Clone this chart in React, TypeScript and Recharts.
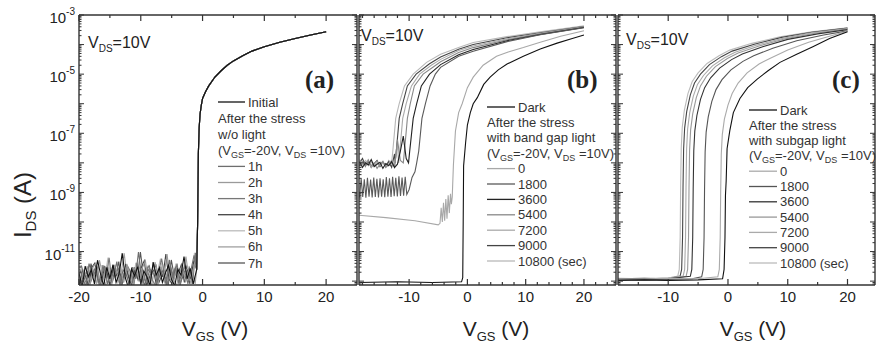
import React from 'react'
import { LineChart, Line, XAxis, YAxis } from 'recharts'

const FONT = '"Liberation Sans", Arial, Helvetica, sans-serif'
const SERIF = '"Liberation Serif", "Times New Roman", serif'
const INK = '#222'
const AXIS = '#333'

// ---------- axes ----------
const Y_DOMAIN: [number, number] = [7.4e-13, 1e-3]
const Y_LABELED = [-11, -9, -7, -5, -3]

const X_A_DOMAIN: [number, number] = [-20, 25]
const X_A_MAJOR = [-20, -10, 0, 10, 20]
const X_A_MINOR = [-15, -5, 5, 15]
const X_B_DOMAIN: [number, number] = [-18.6, 25.5]
const X_B_MAJOR = [-10, 0, 10, 20]
const X_B_MINOR = [-18, -16, -14, -12, -8, -6, -4, -2, 2, 4, 6, 8, 12, 14, 16, 18, 22, 24]
const X_C_DOMAIN: [number, number] = [-18.4, 24.6]
const X_C_MAJOR = [-10, 0, 10, 20]
const X_C_MINOR = [-15, -5, 5, 15]

// ---------- panel (a): stress without light ----------
// off-state noise in pA, one reading every 0.5 V from -20 V
const A_NOISE_STEP = 0.5
const A_NOISE_1 = [1.9, 0.6, 3.2, 1.4, 2.4, 0.8, 5.1, 1.7, 0.7, 2.9, 1.2, 3.6, 0.9, 1.8, 8.8, 1.3, 0.6, 2.6, 1.5, 3.1, 0.8, 2.2, 1.4, 0.7, 4.4, 1.6, 2.8, 0.9, 1.9, 3.4, 1.1, 0.7, 2.5, 1.6, 6.8, 1.2, 2.7, 0.8]
const A_NOISE_2 = [2.6, 1.1, 0.7, 3.9, 1.6, 2.8, 0.9, 1.5, 3.3, 0.8, 2.2, 1.4, 4.6, 0.7, 2.4, 1.7, 0.8, 3.0, 1.2, 9.6, 1.5, 0.7, 2.6, 1.8, 3.7, 0.9, 1.6, 2.3, 0.7, 5.2, 1.4, 2.8, 0.9, 1.7, 3.2, 0.8, 2.4, 7.5]
const A_NOISE_3 = [0.8, 2.3, 1.5, 0.7, 2.9, 4.1, 1.2, 0.8, 2.5, 1.9, 0.6, 3.4, 1.6, 2.1, 0.9, 3.8, 1.3, 0.7, 2.4, 1.1, 2.8, 4.9, 0.8, 1.7, 2.2, 0.7, 3.1, 1.4, 8.2, 1.2, 0.8, 2.6, 1.8, 3.6, 0.9, 2.3, 1.3, 4.5]
const A_NOISE_4 = [3.4, 1.5, 2.1, 0.9, 1.7, 2.6, 0.7, 3.5, 1.3, 6.2, 0.9, 1.9, 2.7, 0.8, 1.5, 3.2, 2.0, 0.7, 4.2, 1.6, 0.9, 2.5, 3.3, 1.1, 0.7, 2.0, 5.8, 1.5, 0.8, 2.7, 1.3, 3.9, 0.7, 2.2, 1.5, 2.9, 0.8, 9.1]
// on-state branch shared by all curves (they overlap)
const A_ON = [[-0.95, 2.5e-12], [-0.8, 9e-11], [-0.68, 2e-8], [-0.55, 1.5e-7], [-0.4, 4.5e-7], [-0.2, 9e-7], [0, 1.5e-6], [0.5, 2.6e-6], [1, 4e-6], [2, 8e-6], [3, 1.3e-5], [4, 2e-5], [5, 2.8e-5], [6.5, 4.2e-5], [8, 6e-5], [10, 8.5e-5], [12.5, 1.2e-4], [15, 1.6e-4], [17.5, 2.1e-4], [20, 2.7e-4]]

const A_SERIES = [
  { name: 'Initial', color: '#111', noise: A_NOISE_1, shift: 0 },
  { name: '1h', color: '#6e6e6e', noise: A_NOISE_2, shift: 0.125 },
  { name: '2h', color: '#9a9a9a', noise: A_NOISE_3, shift: 0.25 },
  { name: '3h', color: '#777', noise: A_NOISE_4, shift: 0.375 },
  { name: '4h', color: '#444', noise: A_NOISE_3, shift: 0.06 },
  { name: '5h', color: '#bbb', noise: A_NOISE_4, shift: 0.19 },
  { name: '6h', color: '#a0a0a0', noise: A_NOISE_1, shift: 0.31 },
  { name: '7h', color: '#555', noise: A_NOISE_2, shift: 0.44 },
]

// ---------- panel (b): stress with band gap light ----------
const B_DARK = [[-18.6, 9e-13], [-12, 9.5e-13], [-6, 9e-13], [-1.0, 9.5e-13], [-0.8, 1.3e-12], [-0.72, 1e-10], [-0.65, 7.9e-9], [-0.3, 5e-8], [0, 1.9e-7], [0.5, 5e-7], [1, 1e-6], [1.7, 1.6e-6], [2.8, 4.5e-6], [3.9, 7.9e-6], [5.3, 1.4e-5], [6.8, 2.2e-5], [9.6, 4e-5], [12.5, 7.1e-5], [15.4, 1.12e-4], [18, 1.6e-4], [20, 2.1e-4]]
const B_ZERO = [[-18.6, 1.7e-10], [-14, 1.4e-10], [-9, 1.1e-10], [-5, 8e-11], [-4.7, 9e-11], [-4.5, 3e-10], [-4.3, 1e-10], [-4.1, 4.5e-10], [-3.9, 1.1e-10], [-3.7, 6e-10], [-3.5, 1.3e-10], [-3.3, 8e-10], [-3.1, 2e-10], [-2.9, 9e-10], [-2.75, 4e-10], [-2.6, 7e-10], [-2.4, 8.5e-9], [-2.05, 1.2e-7], [-1.5, 5e-7], [-0.9, 1e-6], [0, 3.5e-6], [1, 7.9e-6], [2.7, 2e-5], [5, 4e-5], [7, 5.6e-5], [9.6, 7.9e-5], [12.5, 1.2e-4], [16, 1.9e-4], [20, 2.95e-4]]
// noisy off-state band in nA, one reading every 0.5 V from -18.5 V
const B_FLOOR_STEP = 0.5
const B_FLOOR_10800 = [13, 9, 12, 8, 11, 7.5, 10, 8.5, 11.5, 7, 12]
const B_FLOOR_9000 = [10, 14, 8, 11, 7, 9.5, 12, 7.5, 10.5, 8, 11, 7, 20]
const B_FLOOR_7200 = [12, 8.5, 10, 13, 7, 9, 11, 8, 10, 7.5, 9.5, 12, 8, 45]
const B_FLOOR_5400 = [9, 11, 7.5, 12, 8, 10, 6.5, 9, 11, 7, 8.5, 10, 7, 60, 12]
const B_FLOOR_3600 = [11, 7, 10, 8.5, 13, 7.5, 9, 10.5, 6.5, 9.5, 8, 11, 7, 9, 25, 80, 14]
// periodic spikes of the 1800 s curve, nA, every 0.27 V from -18.5 V
const B_SPIKE_STEP = 0.27
const B_SPIKES_1800 = [0.68, 3.0, 0.7, 2.8, 0.66, 3.1, 0.72, 2.7, 0.68, 3.2, 0.7, 2.9, 0.67, 3.0, 0.71, 2.8, 0.69, 3.3, 0.72, 3.0, 0.7, 3.4, 0.74, 3.1, 0.73, 3.5, 0.76, 3.2, 0.78, 3.4, 0.85]
const B_RISE_10800 = [[-13.0, 1e-8], [-12.8, 2.5e-8], [-12.3, 3.2e-7], [-11.7, 1e-6], [-10.8, 4e-6], [-9.3, 1e-5], [-7.0, 2.5e-5], [-4.6, 4.7e-5], [-1.5, 7.9e-5], [1, 1.17e-4], [6.8, 1.86e-4], [12.5, 2.7e-4], [20, 4.3e-4]]
const B_RISE_9000 = [[-12.4, 1e-8], [-12.2, 2.5e-8], [-11.7, 3.2e-7], [-11.1, 1e-6], [-10.3, 4e-6], [-8.8, 1e-5], [-6.5, 2.24e-5], [-4.6, 3.8e-5], [-1.5, 6.9e-5], [1, 1e-4], [6.8, 1.7e-4], [12.5, 2.5e-4], [20, 4.1e-4]]
const B_RISE_7200 = [[-11.8, 1e-8], [-11.6, 2.5e-8], [-11.1, 3.2e-7], [-10.5, 1e-6], [-9.6, 4e-6], [-8.2, 1e-5], [-6.2, 2e-5], [-4.6, 3.16e-5], [-1.5, 6.3e-5], [1, 8.9e-5], [6.8, 1.58e-4], [12.5, 2.4e-4], [20, 4e-4]]
const B_RISE_5400 = [[-11.0, 1e-8], [-10.8, 2.5e-8], [-10.3, 3.2e-7], [-9.8, 1e-6], [-9.1, 4e-6], [-7.6, 1e-5], [-5.8, 1.78e-5], [-4.6, 2.63e-5], [-1.5, 5.4e-5], [1, 7.9e-5], [6.8, 1.45e-4], [12.5, 2.3e-4], [20, 3.9e-4]]
const B_RISE_3600 = [[-10.1, 1e-8], [-9.9, 2.5e-8], [-9.3, 3.2e-7], [-8.7, 1e-6], [-7.9, 4e-6], [-6.5, 1e-5], [-4.6, 2.1e-5], [-1.5, 4.5e-5], [1, 6.8e-5], [6.8, 1.35e-4], [12.5, 2.2e-4], [20, 3.8e-4]]
const B_RISE_1800 = [[-10.0, 1.26e-9], [-9.5, 3.2e-9], [-9.0, 5e-9], [-8.7, 1e-8], [-8.35, 2.5e-8], [-7.8, 3.2e-7], [-7.2, 1e-6], [-6.4, 4e-6], [-5.5, 1e-5], [-4.6, 1.7e-5], [-1.5, 4e-5], [1, 5.9e-5], [6.8, 1.26e-4], [12.5, 2.14e-4], [20, 3.7e-4]]

// ---------- panel (c): stress with subgap light ----------
const C_DARK = [[-18.4, 1.05e-12], [-14, 1.1e-12], [-10, 1.05e-12], [-5, 1.1e-12], [-0.9, 1.2e-12], [-0.65, 2.5e-12], [-0.5, 3e-11], [-0.42, 8e-10], [-0.3, 2.5e-9], [-0.15, 3e-8], [0.3, 1.2e-7], [0.9, 5e-7], [2, 1.5e-6], [3.3, 3.5e-6], [4.9, 6.8e-6], [6.7, 1.3e-5], [8.7, 2.5e-5], [11.5, 4.7e-5], [14.2, 8.5e-5], [17, 1.6e-4], [20, 2.7e-4]]
const C_0 = [[-18.4, 1.2e-12], [-14, 1.2e-12], [-10, 1.25e-12], [-5, 1.2e-12], [-1.7, 1.4e-12], [-1.45, 2.5e-12], [-1.3, 3e-11], [-1.22, 1e-9], [-1.12, 2e-8], [-0.95, 9e-8], [-0.6, 3e-7], [0, 9e-7], [0.7, 2.2e-6], [1.7, 5e-6], [3.2, 1.1e-5], [5.2, 2.2e-5], [7, 3.4e-5], [10, 6.5e-5], [13.5, 1.2e-4], [17, 1.9e-4], [20, 2.85e-4]]
const C_1800 = [[-18.4, 1.15e-12], [-14, 1.1e-12], [-10, 1.15e-12], [-6, 1.2e-12], [-4.4, 1.4e-12], [-4.15, 2.5e-12], [-4.0, 3e-11], [-3.92, 1.2e-9], [-3.82, 2.4e-8], [-3.65, 1.1e-7], [-3.3, 3.6e-7], [-2.7, 1.2e-6], [-2.0, 3e-6], [-1.0, 6.5e-6], [0.5, 1.4e-5], [2.5, 2.7e-5], [4.3, 4.2e-5], [7.5, 7.5e-5], [11.5, 1.35e-4], [16, 2.1e-4], [20, 2.9e-4]]
const C_3600 = [[-18.4, 1.2e-12], [-14, 1.25e-12], [-10, 1.2e-12], [-6.3, 1.45e-12], [-6.05, 2.5e-12], [-5.9, 3e-11], [-5.82, 1.3e-9], [-5.72, 2.6e-8], [-5.55, 1.2e-7], [-5.2, 4e-7], [-4.6, 1.4e-6], [-3.9, 3.5e-6], [-2.9, 7.5e-6], [-1.4, 1.6e-5], [0.6, 3.1e-5], [2.4, 4.8e-5], [5.8, 8.5e-5], [10, 1.5e-4], [15, 2.3e-4], [20, 3.2e-4]]
const C_5400 = [[-18.4, 1.1e-12], [-14, 1.15e-12], [-10, 1.2e-12], [-7.0, 1.45e-12], [-6.75, 2.5e-12], [-6.6, 3e-11], [-6.52, 1.4e-9], [-6.42, 2.8e-8], [-6.25, 1.3e-7], [-5.9, 4.5e-7], [-5.3, 1.6e-6], [-4.6, 4e-6], [-3.6, 8.5e-6], [-2.1, 1.8e-5], [-0.1, 3.4e-5], [1.7, 5.2e-5], [5.2, 9e-5], [9.6, 1.58e-4], [14.5, 2.4e-4], [20, 3.4e-4]]
const C_7200 = [[-18.4, 1.25e-12], [-14, 1.2e-12], [-10, 1.3e-12], [-7.5, 1.5e-12], [-7.25, 2.5e-12], [-7.1, 3e-11], [-7.02, 1.5e-9], [-6.92, 3e-8], [-6.75, 1.4e-7], [-6.4, 5e-7], [-5.8, 1.8e-6], [-5.1, 4.5e-6], [-4.1, 9e-6], [-2.6, 1.9e-5], [-0.6, 3.6e-5], [1.2, 5.5e-5], [4.8, 9.6e-5], [9.3, 1.65e-4], [14, 2.5e-4], [20, 3.5e-4]]
const C_9000 = [[-18.4, 1.2e-12], [-14, 1.15e-12], [-10, 1.2e-12], [-8.0, 1.5e-12], [-7.75, 2.5e-12], [-7.6, 3e-11], [-7.52, 1.5e-9], [-7.42, 3e-8], [-7.25, 1.5e-7], [-6.9, 5.5e-7], [-6.3, 2e-6], [-5.6, 5e-6], [-4.6, 1e-5], [-3.1, 2.1e-5], [-1.1, 3.9e-5], [0.7, 6e-5], [4.4, 1.03e-4], [9, 1.75e-4], [14, 2.6e-4], [20, 3.6e-4]]
const C_10800 = [[-18.4, 1.15e-12], [-14, 1.2e-12], [-10, 1.25e-12], [-8.4, 1.5e-12], [-8.15, 2.5e-12], [-8.0, 3e-11], [-7.92, 1.6e-9], [-7.82, 3.2e-8], [-7.65, 1.6e-7], [-7.3, 6e-7], [-6.7, 2.2e-6], [-6.0, 5.5e-6], [-5.0, 1.1e-5], [-3.5, 2.3e-5], [-1.5, 4.2e-5], [0.3, 6.5e-5], [4, 1.1e-4], [8.7, 1.85e-4], [14, 2.7e-4], [20, 3.7e-4]]

// ---------- helpers ----------
type Pt = { v: number; i: number }
const pairs = (arr: number[][]): Pt[] => arr.map(([v, i]) => ({ v, i }))
const stepped = (vals: number[], start: number, step: number, unit: number): Pt[] =>
  vals.map((p, k) => ({ v: start + k * step, i: p * unit }))

const aData = A_SERIES.map((s) => ({
  ...s,
  data: [...stepped(s.noise, -20 + s.shift, A_NOISE_STEP, 1e-12), ...pairs(A_ON)],
}))

const bData = [
  { name: 'Dark', color: '#111', data: pairs(B_DARK) },
  { name: '0', color: '#a8a8a8', data: pairs(B_ZERO) },
  { name: '1800', color: '#5a5a5a', data: [...stepped(B_SPIKES_1800, -18.5, B_SPIKE_STEP, 1e-9), ...pairs(B_RISE_1800)] },
  { name: '3600', color: '#222', data: [...stepped(B_FLOOR_3600, -18.5, B_FLOOR_STEP, 1e-9), ...pairs(B_RISE_3600)] },
  { name: '5400', color: '#888', data: [...stepped(B_FLOOR_5400, -18.5, B_FLOOR_STEP, 1e-9), ...pairs(B_RISE_5400)] },
  { name: '7200', color: '#aaa', data: [...stepped(B_FLOOR_7200, -18.5, B_FLOOR_STEP, 1e-9), ...pairs(B_RISE_7200)] },
  { name: '9000', color: '#444', data: [...stepped(B_FLOOR_9000, -18.5, B_FLOOR_STEP, 1e-9), ...pairs(B_RISE_9000)] },
  { name: '10800 (sec)', color: '#b8b8b8', data: [...stepped(B_FLOOR_10800, -18.5, B_FLOOR_STEP, 1e-9), ...pairs(B_RISE_10800)] },
]

const cData = [
  { name: 'Dark', color: '#111', data: pairs(C_DARK) },
  { name: '0', color: '#aaa', data: pairs(C_0) },
  { name: '1800', color: '#555', data: pairs(C_1800) },
  { name: '3600', color: '#333', data: pairs(C_3600) },
  { name: '5400', color: '#999', data: pairs(C_5400) },
  { name: '7200', color: '#aaa', data: pairs(C_7200) },
  { name: '9000', color: '#444', data: pairs(C_9000) },
  { name: '10800  (sec)', color: '#bbb', data: pairs(C_10800) },
]

const yTicks: number[] = []
for (let n = -13; n <= -4; n++) {
  for (let k = 1; k <= 9; k++) {
    const t = k * Math.pow(10, n)
    if (t >= Y_DOMAIN[0]) yTicks.push(t)
  }
}
yTicks.push(1e-3)

// ---------- ticks ----------
const XTick = (props: any) => {
  const { x, y, payload, side, major } = props
  const v = payload.value
  const isMajor = major.includes(v)
  const len = isMajor ? 6 : 3
  const dir = side === 'bottom' ? -1 : 1
  return (
    <g>
      <line x1={x} x2={x} y1={y} y2={y + dir * len} stroke={AXIS} strokeWidth={1.2} />
      {side === 'bottom' && isMajor && (
        <text x={x} y={y + 17} textAnchor="middle" fontSize={15} fill={INK} fontFamily={FONT}>
          {v}
        </text>
      )}
    </g>
  )
}

const YTick = (props: any) => {
  const { x, y, payload, side, labels } = props
  const e = Math.log10(payload.value)
  const exp = Math.round(e)
  const isMajor = Math.abs(e - exp) < 1e-6
  const len = isMajor ? 5 : 2.5
  const dir = side === 'left' ? 1 : -1
  return (
    <g>
      <line x1={x} x2={x + dir * len} y1={y} y2={y} stroke={AXIS} strokeWidth={1} />
      {labels && isMajor && Y_LABELED.includes(exp) && (
        <text x={x - 4} y={y + 8} textAnchor="end" fontSize={15} fill={INK} fontFamily={FONT}>
          <tspan>10</tspan>
          <tspan dy={-8} fontSize={10}>{exp}</tspan>
        </text>
      )}
    </g>
  )
}

type Series = { name: string; color: string; data: Pt[] }

function Panel(props: {
  left: number
  width: number
  leftAxis: number
  domain: [number, number]
  major: number[]
  minor: number[]
  series: Series[]
  labels?: boolean
}) {
  const { left, width, leftAxis, domain, major, minor, series, labels } = props
  const xTicks = [...major, ...minor].sort((a, b) => a - b)
  const axisLine = { stroke: AXIS, strokeWidth: 1.4 }
  return (
    <div style={{ position: 'absolute', left, top: 0 }}>
      <LineChart width={width} height={343} margin={{ top: 0, right: 0, bottom: 0, left: 0 }}>
        <XAxis xAxisId="b" dataKey="v" type="number" domain={domain} allowDataOverflow ticks={xTicks} interval={0}
          height={58} tickSize={0} tickMargin={0} tickLine={false} axisLine={axisLine}
          tick={<XTick side="bottom" major={major} />} />
        <XAxis xAxisId="t" orientation="top" dataKey="v" type="number" domain={domain} allowDataOverflow ticks={xTicks} interval={0}
          height={15} tickSize={0} tickMargin={0} tickLine={false} axisLine={axisLine}
          tick={<XTick side="top" major={major} />} />
        <YAxis yAxisId="l" type="number" scale="log" domain={Y_DOMAIN} allowDataOverflow ticks={yTicks} interval={0}
          width={leftAxis} tickSize={0} tickMargin={0} tickLine={false} axisLine={axisLine}
          tick={<YTick side="left" labels={labels} />} />
        <YAxis yAxisId="r" orientation="right" type="number" scale="log" domain={Y_DOMAIN} allowDataOverflow ticks={yTicks} interval={0}
          width={10} tickSize={0} tickMargin={0} tickLine={false} axisLine={axisLine}
          tick={<YTick side="right" />} />
        {series.map((s) => (
          <Line key={s.name} xAxisId="b" yAxisId="l" data={s.data} dataKey="i" type="linear" stroke={s.color}
            strokeWidth={1.1} dot={false} isAnimationActive={false} />
        ))}
      </LineChart>
    </div>
  )
}

// ---------- annotations ----------
const Stress = () => (
  <>
    (V<tspan fontSize={9} dy={3}>GS</tspan>
    <tspan dy={-3}>=-20V, V</tspan>
    <tspan fontSize={9} dy={3}>DS</tspan>
    <tspan dy={-3}> =10V)</tspan>
  </>
)

type Row = { label: React.ReactNode; color?: string }

function LegendBlock({ x, y0, dy, lineW, rows }: { x: number; y0: number; dy: number; lineW: number; rows: Row[] }) {
  return (
    <g fontFamily={FONT} fontSize={13} fill="#333">
      {rows.map((r, k) => {
        const y = y0 + k * dy
        return r.color ? (
          <g key={k}>
            <line x1={x} x2={x + lineW} y1={y} y2={y} stroke={r.color} strokeWidth={1.3} />
            <text x={x + lineW + 3} y={y + 4.5}>{r.label}</text>
          </g>
        ) : (
          <text key={k} x={x} y={y + 4.5}>{r.label}</text>
        )
      })}
    </g>
  )
}

const Vds = ({ x, y }: { x: number; y: number }) => (
  <text x={x} y={y} fontSize={16} fill={INK} fontFamily={FONT}>
    V<tspan fontSize={10} dy={4}>DS</tspan>
    <tspan dy={-4}>=10V</tspan>
  </text>
)

const Vgs = ({ x }: { x: number }) => (
  <text x={x} y={336} textAnchor="middle" fontSize={21} fill={INK} fontFamily={FONT}>
    V<tspan fontSize={13} dy={5}>GS</tspan>
    <tspan dy={-5}> (V)</tspan>
  </text>
)

const Letter = ({ x, t }: { x: number; t: string }) => (
  <text x={x} y={88} fontSize={25} fontWeight="bold" fill={INK} fontFamily={SERIF}>{t}</text>
)

export default function App() {
  const aRows: Row[] = [
    { label: aData[0].name, color: aData[0].color },
    { label: 'After the stress' },
    { label: 'w/o light' },
    { label: <Stress /> },
    ...aData.slice(1).map((s) => ({ label: s.name, color: s.color })),
  ]
  const bRows: Row[] = [
    { label: bData[0].name, color: bData[0].color },
    { label: 'After the stress' },
    { label: 'with band gap light' },
    { label: <Stress /> },
    ...bData.slice(1).map((s) => ({ label: s.name, color: s.color })),
  ]
  const cRows: Row[] = [
    { label: cData[0].name, color: cData[0].color },
    { label: 'After the stress' },
    { label: 'with subgap light' },
    { label: <Stress /> },
    ...cData.slice(1).map((s) => ({ label: s.name, color: s.color })),
  ]

  return (
    <div style={{ position: 'absolute', left: 0, top: 0, width: 876, height: 343, overflow: 'hidden', background: '#fff' }}>
      <Panel left={0} width={367} leftAxis={79} domain={X_A_DOMAIN} major={X_A_MAJOR} minor={X_A_MINOR}
        series={[...aData].reverse()} labels />
      <Panel left={349} width={277} leftAxis={10} domain={X_B_DOMAIN} major={X_B_MAJOR} minor={X_B_MINOR}
        series={[...bData].reverse()} />
      <Panel left={608} width={277} leftAxis={10} domain={X_C_DOMAIN} major={X_C_MAJOR} minor={X_C_MINOR}
        series={[...cData].reverse()} />
      <svg width={876} height={343} style={{ position: 'absolute', left: 0, top: 0, pointerEvents: 'none' }}>
        <text transform="translate(31,205) rotate(-90)" textAnchor="middle" fontSize={24} fill={INK} fontFamily={FONT}>
          I<tspan fontSize={15} dy={5}>DS</tspan>
          <tspan dy={-5}> (A)</tspan>
        </text>
        <Vds x={88} y={48} />
        <Vds x={361} y={41} />
        <Vds x={626} y={45} />
        <Letter x={305} t="(a)" />
        <Letter x={567} t="(b)" />
        <Letter x={832} t="(c)" />
        <LegendBlock x={218} y0={102} dy={16.1} lineW={27} rows={aRows} />
        <LegendBlock x={487} y0={107} dy={15.4} lineW={28} rows={bRows} />
        <LegendBlock x={749} y0={110} dy={15.3} lineW={28} rows={cRows} />
        <Vgs x={215} />
        <Vgs x={496} />
        <Vgs x={753} />
      </svg>
    </div>
  )
}
